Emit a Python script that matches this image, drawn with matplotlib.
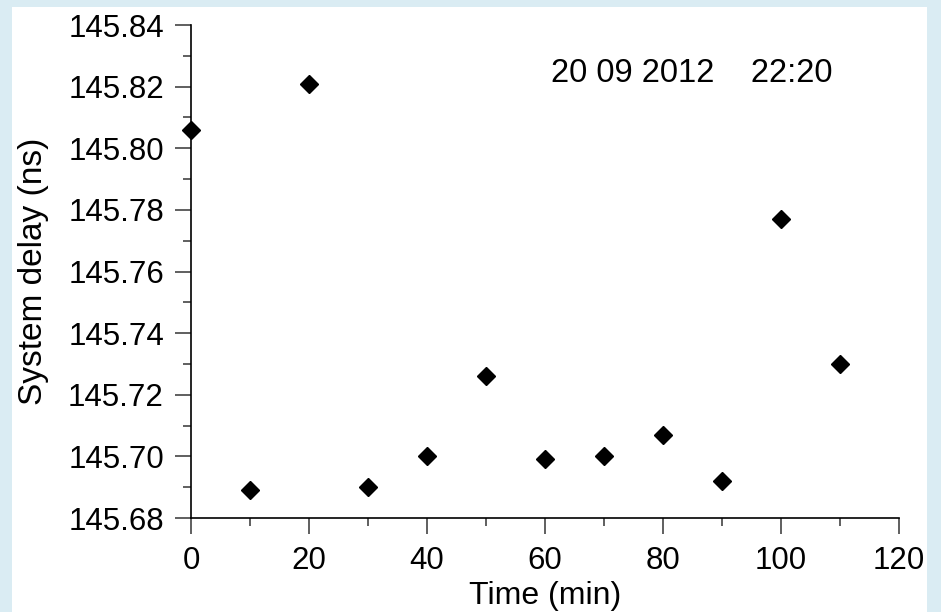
import matplotlib.pyplot as plt
from matplotlib.patches import Rectangle
from matplotlib.ticker import MultipleLocator

plt.rcParams['font.family'] = ['Liberation Sans', 'DejaVu Sans']

# time (min) and measured system delay (ns)
t = [0, 10, 20, 30, 40, 50, 60, 70, 80, 90, 100, 110]
delay = [145.806, 145.689, 145.821, 145.690, 145.700, 145.726,
         145.699, 145.700, 145.707, 145.692, 145.777, 145.730]
stamp = "20 09 2012    22:20"

fig = plt.figure(figsize=(9.41, 6.12), dpi=100, facecolor='#daecf3')
# white panel on the blue page
fig.patches.append(Rectangle((12/941, 0), 915/941, 1 - 7/612,
                             transform=fig.transFigure, facecolor='white',
                             edgecolor='none', zorder=-10))

ax = fig.add_axes([191/941, 1 - 518/612, 708/941, 493/612])
ax.set_facecolor('none')
ax.plot(t, delay, 'D', color='black', markersize=9, clip_on=False)

ax.set_xlim(0, 120)
ax.set_ylim(145.68, 145.84)
ax.xaxis.set_major_locator(MultipleLocator(20))
ax.xaxis.set_minor_locator(MultipleLocator(10))
ax.yaxis.set_major_locator(MultipleLocator(0.02))
ax.yaxis.set_minor_locator(MultipleLocator(0.01))
ax.yaxis.set_major_formatter(plt.FormatStrFormatter('%.2f'))

for s in ['top', 'right']:
    ax.spines[s].set_visible(False)
ax.spines['left'].set_linewidth(1.2)
ax.spines['bottom'].set_linewidth(1.2)

ax.tick_params(which='major', length=11.5, width=1.2, color='#444444',
               labelsize=22.5, pad=8)
ax.tick_params(which='minor', length=6, width=1.2, color='#444444')
ax.tick_params(axis='x', which='major', pad=9)

ax.set_xlabel("Time (min)", fontsize=23, labelpad=3)
ax.set_ylabel("System delay (ns)", fontsize=24, labelpad=14)

ax.text(61, 145.8242, stamp, fontsize=23.5, va='center', ha='left')

fig.savefig("out.png", dpi=100, facecolor=fig.get_facecolor())
